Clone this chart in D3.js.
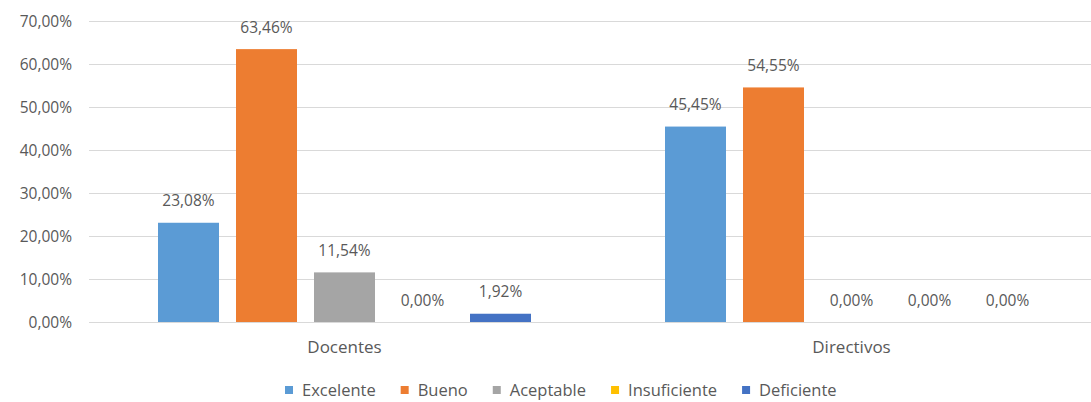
<!DOCTYPE html>
<html>
<head>
<meta charset="utf-8">
<script src="https://cdn.jsdelivr.net/npm/d3@7"></script>
<style>
  body { margin: 0; background: #fff; }
  svg text { font-family: "Open Sans", Calibri, sans-serif; fill: #595959; }
</style>
</head>
<body>
<div id="viz"></div>
<script>
const groups = ['Docentes', 'Directivos'];
const levels = ['Excelente', 'Bueno', 'Aceptable', 'Insuficiente', 'Deficiente'];
const docentes = [23.08, 63.46, 11.54, 0, 1.92];
const directivos = [45.45, 54.55, 0, 0, 0];
const colors = ['#5B9BD5', '#ED7D31', '#A5A5A5', '#FFC000', '#4472C4'];
const yTicks = [0, 10, 20, 30, 40, 50, 60, 70];

const width = 1091, height = 402;
const numSize = '15.5px', wordSize = '17px';
const fmt = v => v.toFixed(2).replace('.', ',') + '%';

const rows = groups.map((g, i) => ({
  group: g,
  values: (i === 0 ? docentes : directivos).map((v, j) => ({ level: levels[j], value: v }))
}));

const svg = d3.select('#viz').append('svg')
  .attr('width', width).attr('height', height)
  .attr('role', 'img')
  .attr('aria-label', 'Valoración de docentes y directivos');

const x0 = d3.scaleBand().domain(groups).range([91, 1105]);
const x1 = d3.scaleBand().domain(levels).range([67, 440]).paddingInner(0.218).paddingOuter(0);
const y = d3.scaleLinear().domain([0, 70]).range([322, 21]);

// gridlines
svg.append('g').selectAll('line').data(yTicks).join('line')
  .attr('x1', 89).attr('x2', width)
  .attr('y1', d => Math.round(y(d)) + 0.5).attr('y2', d => Math.round(y(d)) + 0.5)
  .attr('stroke', '#D9D9D9').attr('stroke-width', 1);

// y labels
svg.append('g').selectAll('text').data(yTicks).join('text')
  .attr('x', 72).attr('y', d => y(d))
  .attr('dy', '0.36em').attr('text-anchor', 'end')
  .style('font-size', numSize)
  .text(d => fmt(d));

// bars
const g = svg.append('g').selectAll('g').data(rows).join('g')
  .attr('transform', d => `translate(${x0(d.group)},0)`);

g.selectAll('rect').data(d => d.values.filter(v => v.value > 0)).join('rect')
  .attr('x', d => x1(d.level))
  .attr('y', d => y(d.value))
  .attr('width', x1.bandwidth())
  .attr('height', d => y(0) - y(d.value))
  .attr('fill', d => colors[levels.indexOf(d.level)]);

g.selectAll('text').data(d => d.values).join('text')
  .attr('x', d => x1(d.level) + x1.bandwidth() / 2)
  .attr('y', d => y(d.value) - 22)
  .attr('dy', '0.36em').attr('text-anchor', 'middle')
  .style('font-size', numSize)
  .text(d => fmt(d.value));

// category labels
svg.append('g').selectAll('text').data(groups).join('text')
  .attr('x', d => x0(d) + (x1.range()[0] + x1.range()[1]) / 2)
  .attr('y', 347).attr('dy', '0.36em').attr('text-anchor', 'middle')
  .style('font-size', wordSize)
  .text(d => d);

// legend: laid out left to right from the measured label widths
const leg = svg.append('g');
let lx = 285;
levels.forEach((name, i) => {
  const item = leg.append('g').attr('transform', `translate(${lx},390)`);
  item.append('rect').attr('x', 0).attr('y', -4).attr('width', 8).attr('height', 8)
    .attr('fill', colors[i]);
  const t = item.append('text').attr('x', 17).attr('dy', '0.36em')
    .style('font-size', '16.5px')
    .text(name);
  lx += 17 + t.node().getComputedTextLength() + 25;
});
</script>
</body>
</html>
